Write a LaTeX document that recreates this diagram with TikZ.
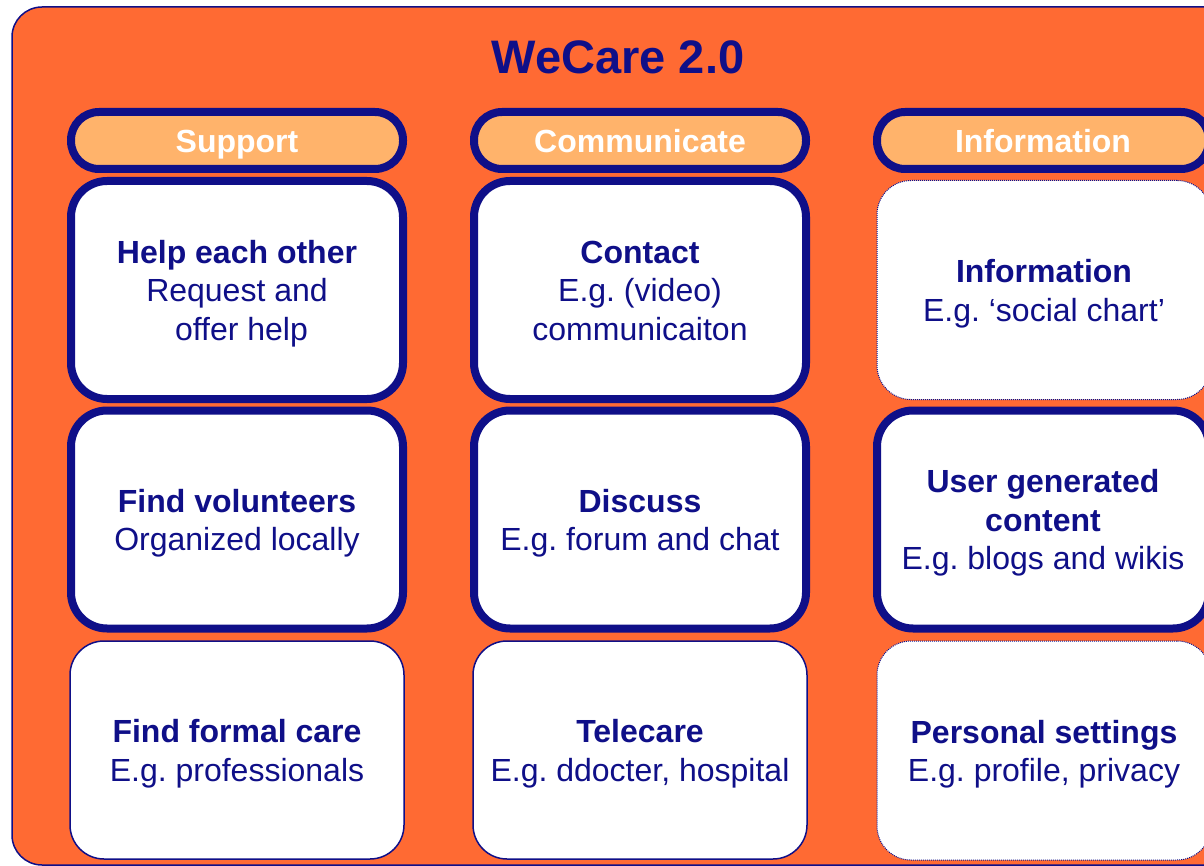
\documentclass[tikz,border=0pt]{standalone}
\usepackage{fontspec}
\setmainfont{Liberation Sans}
\definecolor{navy}{HTML}{0F0F88}
\definecolor{bgorange}{HTML}{FF6A33}
\definecolor{hdr}{HTML}{FFB36B}
\begin{document}
\frenchspacing
\begin{tikzpicture}[x=1pt,y=-1pt,
  hdrbox/.style={draw=navy, line width=8pt, fill=hdr, rounded corners=28pt,
    minimum width=332pt, minimum height=57pt, inner sep=0pt, text=white,
    text height=24pt, text depth=0pt,
    font=\bfseries\fontsize{32}{38}\selectfont},
  cell/.style={fill=white, inner sep=0pt},
  celltext/.style={text=navy, align=center, inner sep=0pt,
    font=\fontsize{32}{38.5}\selectfont},
  thickcell/.style={cell, draw=navy, line width=8pt, rounded corners=36pt,
    minimum width=332pt, minimum height=218pt},
  thincell/.style={cell, draw=navy, line width=1.5pt, rounded corners=34pt,
    minimum width=334pt, minimum height=218pt},
  dotcell/.style={cell, draw=navy, line width=1pt, dash pattern=on 1pt off 1pt,
    rounded corners=34pt, minimum width=334pt, minimum height=219pt}]
\useasboundingbox (0,0) rectangle (1204,866);
\clip (0,0) rectangle (1204,866);
\draw[navy, line width=1.5pt, fill=bgorange, rounded corners=30pt] (12,7) rectangle (1260,865);
\node[text=navy, font=\bfseries\fontsize{47}{56}\selectfont] (title) at (618,57) {WeCare 2.0};
% headers
\node[hdrbox] (hsupport) at (237,140.5) {Support};
\node[hdrbox] (hcomm) at (640,140.5) {Communicate};
\node[hdrbox] (hinfo) at (1043,140.5) {Information};
% row 1
\node[thickcell] (help) at (237,290) {};
\node[celltext] (helpt) at ([yshift=-3.5pt]help.center) {\textbf{Help each other}\\Request and\\\ offer help};
\node[thickcell] (contact) at (640,290) {};
\node[celltext] (contactt) at ([yshift=-0.5pt]contact.center) {\textbf{Contact}\\E.g. (video)\\communicaiton};
\node[dotcell] (info) at (1044,290) {};
\node[celltext] (infot) at ([yshift=-3.5pt]info.center) {\textbf{Information}\\E.g. ‘social chart’};
% row 2
\node[thickcell] (vol) at (237,519.5) {};
\node[celltext] (volt) at ([yshift=-3.5pt]vol.center) {\textbf{Find volunteers}\\Organized locally};
\node[thickcell] (discuss) at (640,519.5) {};
\node[celltext] (discusst) at ([yshift=-3.5pt]discuss.center) {\textbf{Discuss}\\E.g. forum and chat};
\node[thickcell] (ugc) at (1043,519.5) {};
\node[celltext] (ugct) at ([yshift=-3.5pt]ugc.center) {\textbf{User generated}\\\textbf{content}\\E.g. blogs and wikis};
% row 3
\node[thincell] (formal) at (237,750) {};
\node[celltext] (formalt) at ([yshift=-3.5pt]formal.center) {\textbf{Find formal care}\\E.g. professionals};
\node[thincell] (tele) at (640,750) {};
\node[celltext] (telet) at ([yshift=-3.5pt]tele.center) {\textbf{Telecare}\\E.g. ddocter, hospital};
\node[dotcell] (personal) at (1044,750.5) {};
\node[celltext] (personalt) at ([yshift=-3.5pt]personal.center) {\textbf{Personal settings}\\E.g. profile, privacy};
\end{tikzpicture}
\end{document}
